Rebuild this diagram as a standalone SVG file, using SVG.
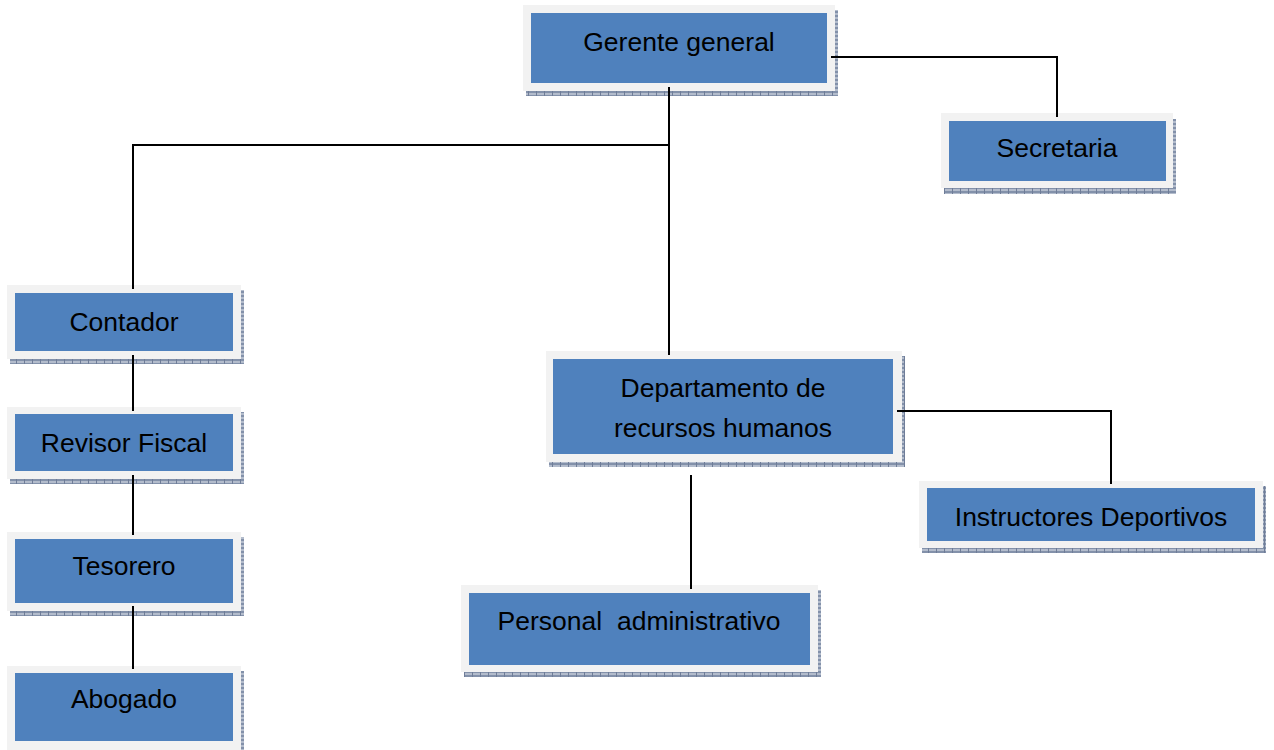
<svg xmlns="http://www.w3.org/2000/svg" width="1274" height="750" viewBox="0 0 1274 750">
  <defs>
    <pattern id="hatch" width="8" height="4" patternUnits="userSpaceOnUse">
      <rect width="8" height="4" fill="#b3bccc"/>
      <rect x="0" y="0" width="8" height="1" fill="#8391aa"/>
      <rect x="0" y="3" width="8" height="1" fill="#8391aa"/>
      <rect x="0" y="0" width="1" height="4" fill="#6f7d98"/>
    </pattern>
  </defs>
  <style>
    .shadow { fill: url(#hatch); }
    .frame { fill: #f2f2f2; }
    .box { fill: #4f81bd; }
    .lbl { font-family: "Liberation Sans", Arial, sans-serif; font-size: 26.5px; fill: #000; text-anchor: middle; white-space: pre; }
    .conn { fill: none; stroke: #000; stroke-width: 2; }
  </style>
  <rect width="1274" height="750" fill="#fff"/>

  <g id="gerente">
    <rect class="shadow" x="526" y="10" width="312" height="86"/>
    <rect class="frame" x="523" y="5" width="312" height="86"/>
    <rect class="box" x="531" y="13" width="296" height="70"/>
    <text class="lbl" x="679" y="51">Gerente general</text>
  </g>

  <g id="secretaria">
    <rect class="shadow" x="944" y="119" width="232" height="75"/>
    <rect class="frame" x="941" y="113" width="232" height="75"/>
    <rect class="box" x="949" y="121" width="217" height="60"/>
    <text class="lbl" x="1057" y="157">Secretaria</text>
  </g>

  <g id="contador">
    <rect class="shadow" x="10" y="290" width="234" height="74"/>
    <rect class="frame" x="7" y="285" width="234" height="74"/>
    <rect class="box" x="15" y="293" width="218" height="58"/>
    <text class="lbl" x="124" y="331">Contador</text>
  </g>

  <g id="revisor">
    <rect class="shadow" x="10" y="412" width="234" height="72"/>
    <rect class="frame" x="7" y="407" width="234" height="72"/>
    <rect class="box" x="15" y="414" width="218" height="57"/>
    <text class="lbl" x="124" y="452">Revisor Fiscal</text>
  </g>

  <g id="tesorero">
    <rect class="shadow" x="10" y="537" width="234" height="79"/>
    <rect class="frame" x="7" y="532" width="234" height="79"/>
    <rect class="box" x="15" y="539" width="218" height="64"/>
    <text class="lbl" x="124" y="575">Tesorero</text>
  </g>

  <g id="abogado">
    <rect class="shadow" x="10" y="671" width="234" height="84"/>
    <rect class="frame" x="7" y="666" width="234" height="84"/>
    <rect class="box" x="15" y="673" width="218" height="68"/>
    <text class="lbl" x="124" y="708">Abogado</text>
  </g>

  <g id="departamento">
    <rect class="shadow" x="549" y="356" width="356" height="111"/>
    <rect class="frame" x="546" y="351" width="356" height="111"/>
    <rect class="box" x="553" y="359" width="340" height="95"/>
    <text class="lbl" x="723" y="397">Departamento de</text>
    <text class="lbl" x="723" y="437">recursos humanos</text>
  </g>

  <g id="instructores">
    <rect class="shadow" x="922" y="486" width="344" height="67"/>
    <rect class="frame" x="919" y="481" width="344" height="67"/>
    <rect class="box" x="927" y="488" width="328" height="53"/>
    <text class="lbl" x="1091" y="526">Instructores Deportivos</text>
  </g>

  <g id="personal">
    <rect class="shadow" x="464" y="590" width="357" height="87"/>
    <rect class="frame" x="461" y="585" width="357" height="87"/>
    <rect class="box" x="469" y="593" width="341" height="72"/>
    <text class="lbl" x="639" y="630" xml:space="preserve">Personal  administrativo</text>
  </g>

  <g id="connectors">
    <path class="conn" d="M831,57 H1057 V117"/>
    <path class="conn" d="M669,87 V355"/>
    <path class="conn" d="M669,145 H133 V289"/>
    <path class="conn" d="M133,355 V411"/>
    <path class="conn" d="M133,475 V535"/>
    <path class="conn" d="M133,606 V669"/>
    <path class="conn" d="M897,411 H1111 V484"/>
    <path class="conn" d="M691,475 V589"/>
  </g>
</svg>
